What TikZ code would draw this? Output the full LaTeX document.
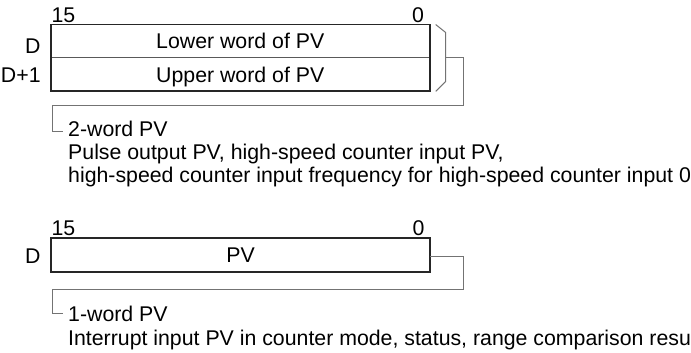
\documentclass[tikz,border=0pt]{standalone}
\usepackage{fontspec}
\setmainfont{Liberation Sans}
\usetikzlibrary{positioning}
\begin{document}
\begin{tikzpicture}[x=1pt, y=-1pt, font=\fontsize{21.3}{23}\selectfont,
  word/.style={minimum width=378.5pt, minimum height=33pt, inner sep=0pt, text height=15pt, text depth=0pt},
  frame/.style={draw=black!85, line width=1.8pt},
  sep/.style={draw=black!65, line width=1pt},
  bracket/.style={draw=black!55, line width=1pt},
  addr/.style={anchor=base east, inner sep=0pt},
  bitno/.style={inner sep=0pt},
  note/.style={anchor=base west, inner sep=0pt}]
  \useasboundingbox (0,0) rectangle (691,353);

  % Two-word PV: lower word at D, upper word at D+1
  \node[word] (lower) at (240.25,41.25) {Lower word of PV};
  \node[word, below=0pt of lower] (upper) {Upper word of PV};
  \draw[sep] (lower.south west) -- (lower.south east);
  \draw[frame] (lower.north west) rectangle (upper.south east);

  % Bit numbers and addresses
  \node[bitno, anchor=base west] (hiA) at ([xshift=0.5pt, yshift=2.5pt]lower.north west) {15};
  \node[bitno, anchor=base east] (loA) at ([xshift=-5.5pt, yshift=2.5pt]lower.north east) {0};
  \node[addr] (dA) at ([xshift=-10pt, yshift=-12pt]lower.west) {D};
  \node[addr] (dB) at ([xshift=-10pt, yshift=-8pt]upper.west) {D+1};

  % Brace round both words
  \coordinate (braceM) at ([xshift=16pt]lower.south east);
  \draw[bracket] ([xshift=6pt]lower.north east) -- ([xshift=16pt, yshift=-8pt]lower.north east)
    -- ([xshift=16pt, yshift=10pt]upper.south east) -- ([xshift=6pt]upper.south east);

  % Description of the two-word PV
  \node[note] (twoA) at (68,136) {2-word PV};
  \node[note] (twoB) at ([yshift=-23.3pt]twoA.base west) {Pulse output PV, high-speed counter input PV,};
  \node[note] (twoC) at ([yshift=-23.3pt]twoB.base west) {high-speed counter input frequency for high-speed counter input 0};
  \draw[bracket] (braceM) -- ++(17.5,0) |- (52.7,105.7) |- ([xshift=-5pt, yshift=5pt]twoA.base west);

  % One-word PV
  \node[word, minimum width=379pt, minimum height=33.4pt] (pv) at (240.5,255) {PV};
  \draw[frame] (pv.north west) rectangle (pv.south east);
  \node[bitno, anchor=base west] (hiB) at ([xshift=0.5pt, yshift=2.5pt]pv.north west) {15};
  \node[bitno, anchor=base east] (loB) at ([xshift=-5.5pt, yshift=2.5pt]pv.north east) {0};
  \node[addr] (dC) at ([xshift=-10pt, yshift=-8pt]pv.west) {D};

  % Description of the one-word PV
  \node[note] (oneA) at (68,321.7) {1-word PV};
  \node[note] (oneB) at ([yshift=-24pt]oneA.base west) {Interrupt input PV in counter mode, status, range comparison resu};
  \draw[bracket] ([yshift=-1pt]pv.east) -- ++(33,0) |- (52.7,289.3) |- ([xshift=-5pt, yshift=8pt]oneA.base west);
\end{tikzpicture}
\end{document}
